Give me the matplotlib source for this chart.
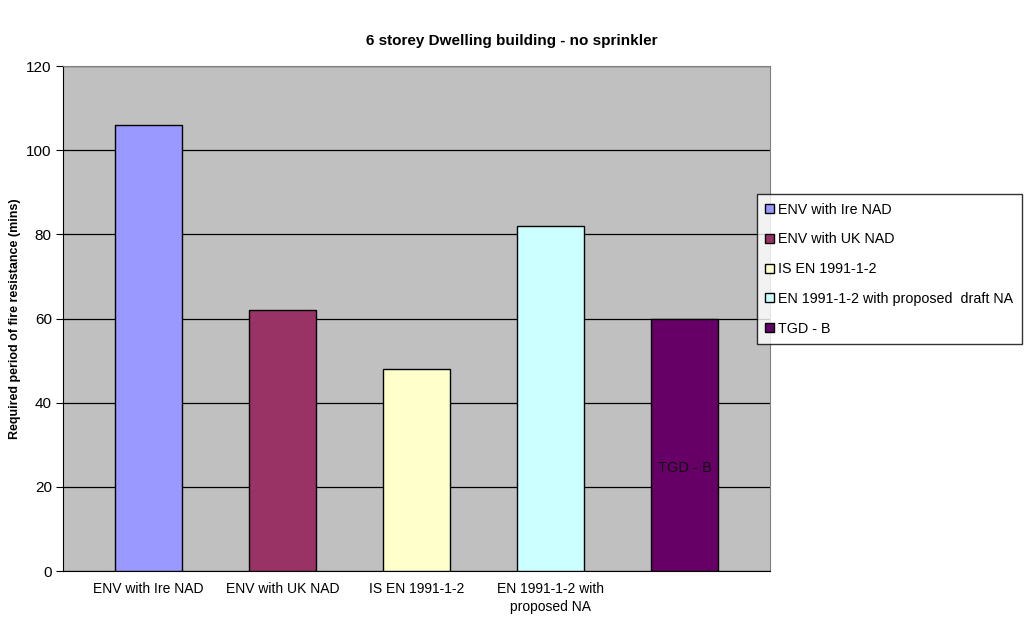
import matplotlib.pyplot as plt
from matplotlib.patches import Patch

plt.rcParams['font.family'] = ['Liberation Sans', 'DejaVu Sans']

series = ["ENV with Ire NAD", "ENV with UK NAD", "IS EN 1991-1-2",
          "EN 1991-1-2 with proposed  draft NA", "TGD - B"]
values = [106, 62, 48, 82, 60]
tick_labels = ["ENV with Ire NAD", "ENV with UK NAD", "IS EN 1991-1-2",
               "EN 1991-1-2 with\nproposed NA", ""]
colors = ["#9999FF", "#993366", "#FFFFCC", "#CCFFFF", "#660066"]

fig = plt.figure(figsize=(10.24, 6.18), dpi=100)
fig.patch.set_facecolor("white")
ax = fig.add_axes([0.0615, 0.076, 0.6905, 0.817])
ax.set_facecolor("#C0C0C0")

x = list(range(len(values)))
ax.bar(x, values, width=0.5, color=colors, edgecolor="black", linewidth=1.0, zorder=3)

# label drawn inside the last bar
ax.text(x[-1], 24.5, "TGD - B", ha="center", va="center", fontsize=10.5, color="#111111", zorder=4)

ax.set_ylim(0, 120)
ax.set_yticks(range(0, 121, 20))
ax.set_xlim(-0.638, len(values) - 1 + 0.638)
ax.set_xticks(x)
ax.set_xticklabels(tick_labels, fontsize=10, linespacing=1.35)
ax.tick_params(axis="x", length=0, pad=8)
ax.tick_params(axis="y", length=5, direction="out", labelsize=11, pad=3)
ax.yaxis.grid(True, color="black", linewidth=0.9, zorder=1)
ax.set_axisbelow(True)

ax.spines["left"].set_color("black")
ax.spines["bottom"].set_color("black")
ax.spines["top"].set_color("#808080")
ax.spines["right"].set_color("#808080")

fig.text(15 / 1024, 0.485, "Required period of fire resistance (mins)", rotation=90,
         ha="center", va="center", fontsize=9, fontweight="bold")
fig.text(0.5, 0.933, "6 storey Dwelling building - no sprinkler", ha="center", va="center",
         fontsize=11, fontweight="bold")

handles = [Patch(facecolor=c, edgecolor="black", linewidth=1.0) for c in colors]
leg = fig.legend(handles, series, loc="upper left", bbox_to_anchor=(0.739, 0.686),
                 borderaxespad=0, fontsize=10.3, frameon=True, fancybox=False,
                 edgecolor="black", handlelength=0.6, handleheight=0.6,
                 handletextpad=0.3, labelspacing=1.1, borderpad=0.6)
leg.get_frame().set_linewidth(1.0)

fig.savefig("out.png", dpi=100, facecolor="white")
